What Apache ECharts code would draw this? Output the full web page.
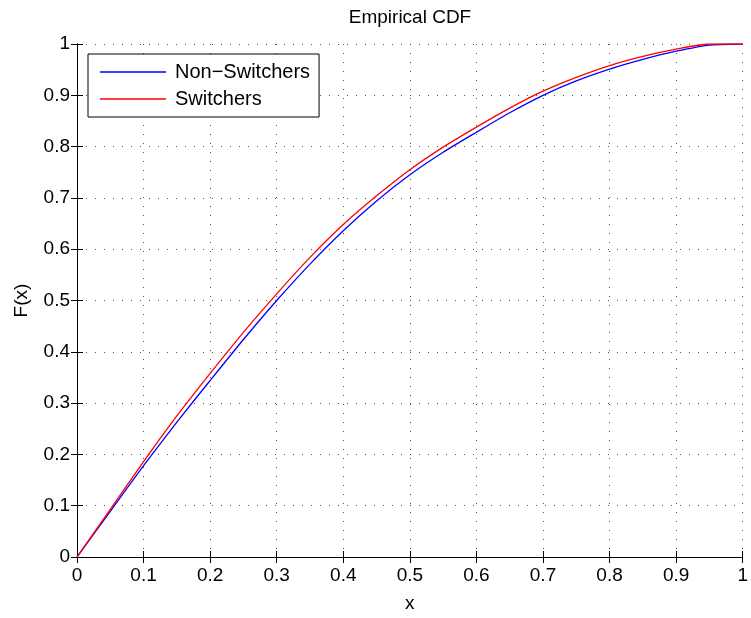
<!DOCTYPE html>
<html>
<head>
<meta charset="utf-8">
<script src="https://cdn.jsdelivr.net/npm/echarts@6/dist/echarts.min.js"></script>
<style>
  html, body { margin: 0; padding: 0; background: #fff; }
  #chart { width: 751px; height: 618px; }
</style>
</head>
<body>
<div id="chart"></div>
<script>
const xs = [0, 0.05, 0.1, 0.15, 0.2, 0.25, 0.3, 0.35, 0.4, 0.45, 0.5,
            0.55, 0.6, 0.65, 0.7, 0.75, 0.8, 0.85, 0.9, 0.95, 1];
const nonSwitchers = [0, 0.089, 0.178, 0.263, 0.344, 0.424, 0.500, 0.571, 0.636, 0.694, 0.745,
                      0.789, 0.828, 0.866, 0.900, 0.928, 0.951, 0.970, 0.986, 0.998, 1];
const switchers = [0, 0.093, 0.186, 0.275, 0.358, 0.438, 0.513, 0.584, 0.648, 0.704, 0.755,
                   0.799, 0.838, 0.875, 0.908, 0.935, 0.958, 0.976, 0.990, 1, 1];
const seriesNames = ['Non\u2212Switchers', 'Switchers'];
const tickLabels = ['0', '0.1', '0.2', '0.3', '0.4', '0.5', '0.6', '0.7', '0.8', '0.9', '1'];

const font = 'Liberation Sans';
const fs = 19;

function pairs(ys) {
  return xs.map((x, i) => [x, ys[i]]);
}

// plain frame axis with inward ticks, as matlab draws the box
function frameAxis(extra) {
  return Object.assign({
    type: 'value',
    min: 0,
    max: 1,
    interval: 0.1,
    axisLine: { show: true, lineStyle: { color: '#000', width: 1 } },
    axisTick: { show: true, inside: true, length: 6, lineStyle: { color: '#000' } },
    axisLabel: { show: false },
    splitLine: { show: false }
  }, extra);
}

const labelFmt = v => tickLabels[Math.round(v * 10)];
const gridDots = { show: true, lineStyle: { color: '#555', type: [1, 8], width: 1 } };

const chart = echarts.init(document.getElementById('chart'));
chart.setOption({
  backgroundColor: '#fff',
  animation: false,
  title: {
    text: 'Empirical CDF',
    left: 410,
    textAlign: 'center',
    top: 8,
    padding: 0,
    textStyle: { fontFamily: font, fontSize: fs, fontWeight: 'normal', color: '#000' }
  },
  legend: {
    left: 88,
    top: 54,
    orient: 'vertical',
    icon: 'rect',
    itemWidth: 66,
    itemHeight: 1.5,
    itemGap: 7,
    padding: [8, 9, 8, 12],
    borderColor: '#000',
    borderWidth: 1,
    backgroundColor: '#fff',
    textStyle: { fontFamily: font, fontSize: 20, color: '#000', padding: [0, 0, 0, 4] },
    data: seriesNames
  },
  grid: { left: 77, right: 8, top: 44, bottom: 55 },
  xAxis: [
    frameAxis({
      position: 'bottom',
      name: 'x',
      nameLocation: 'middle',
      nameGap: 37,
      nameTextStyle: { fontFamily: font, fontSize: fs, color: '#000' },
      axisLabel: { show: true, margin: 9, fontFamily: font, fontSize: fs, color: '#000', formatter: labelFmt },
      splitLine: gridDots
    }),
    frameAxis({ position: 'top' })
  ],
  yAxis: [
    frameAxis({
      position: 'left',
      name: 'F(x)',
      nameLocation: 'middle',
      nameGap: 46,
      nameTextStyle: { fontFamily: font, fontSize: fs, color: '#000' },
      axisLabel: { show: true, margin: 7, fontFamily: font, fontSize: fs, color: '#000', formatter: labelFmt },
      splitLine: gridDots
    }),
    frameAxis({ position: 'right' })
  ],
  series: [
    {
      name: seriesNames[0],
      type: 'line',
      symbol: 'none',
      smooth: 0.2,
      data: pairs(nonSwitchers),
      lineStyle: { color: '#0000ff', width: 1.3 },
      itemStyle: { color: '#0000ff' }
    },
    {
      name: seriesNames[1],
      type: 'line',
      symbol: 'none',
      smooth: 0.2,
      data: pairs(switchers),
      lineStyle: { color: '#ff0000', width: 1.3 },
      itemStyle: { color: '#ff0000' }
    }
  ]
});
</script>
</body>
</html>
